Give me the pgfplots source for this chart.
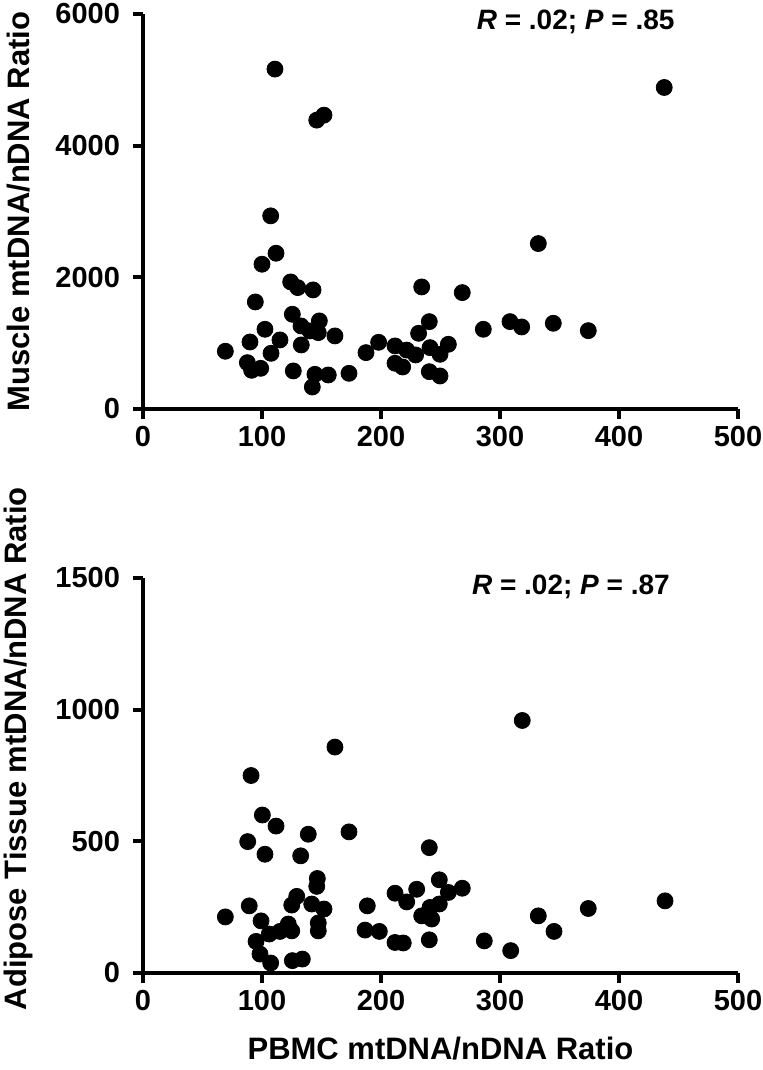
\documentclass[border=0pt]{standalone}
\usepackage{fontspec}
\setmainfont{Liberation Sans}
\usepackage{pgfplots}
\pgfplotsset{compat=1.18}
\pgfplotsset{
 prism/.style={
  scale only axis, width=297.5pt, height=197.5pt,
  xmin=0, xmax=500,
  axis x line*=bottom, axis y line*=left,
  axis line style={line width=2pt,-},
  every tick/.style={line width=2pt,black},
  major tick length=5pt, tick align=outside,
  xtick={0,100,...,500},
  tick label style={font=\fontsize{14.5}{16}\selectfont\bfseries},
  yticklabel style={xshift=-3pt},
  /pgf/number format/assume math mode=true,
  /pgf/number format/1000 sep={},
  label style={font=\fontsize{15.5}{18}\selectfont\bfseries},
  ylabel style={at={(axis description cs:-0.2085,0.5)}, anchor=center},
  clip=false,
 },
 dots/.style={only marks, mark=*, mark size=4pt, black},
}
\begin{document}
\begin{tikzpicture}
\useasboundingbox (-71.5pt,7pt) rectangle (310pt,-528pt);
\begin{axis}[prism, at={(0pt,0pt)}, anchor=north west,
  ymin=0, ymax=6000, ytick={0,2000,4000,6000},
  ylabel={Muscle mtDNA/nDNA Ratio}]
\addplot[dots] table {
x y
107.3 2934
111.8 2366
100 2199
124.1 1930
130 1844
142.9 1809
234.2 1854
94.4 1626
125.5 1439
132.8 1262
148.2 1338
140.3 1186
147.3 1160
240.6 1327
231.6 1150
102.5 1211
115.1 1049
89.9 1018
161.3 1110
133 973
69.2 877
107.6 846
187.4 856
198 1013
211.8 958
221.6 895
229.1 821
241.2 932
249.6 831
256.6 983
87.7 704
91.3 588
98.9 618
126.3 578
144.5 527
142.3 334
155.7 517
173.1 542
211.8 695
218.2 638
240.6 567
249.6 502
110.9 5163
146 4388
152.1 4464
438 4884
332.2 2513
268.3 1768
286 1211
308.4 1327
318.2 1246
344.8 1302
374.2 1190
};
\node[anchor=base east, inner sep=0pt, font=\fontsize{14}{16}\selectfont\bfseries] at (axis cs:447,5757) {\textit{R} = .02; \textit{P} = .85};
\end{axis}
\begin{axis}[prism, at={(0pt,-282pt)}, anchor=north west,
  ymin=0, ymax=1500, ytick={0,500,1000,1500},
  ylabel={Adipose Tissue mtDNA/nDNA Ratio},
  ylabel style={at={(axis description cs:-0.2085,0.568)}},
  xlabel={PBMC mtDNA/nDNA Ratio},
  xlabel style={at={(axis description cs:0.5,0)}, yshift=-38pt, anchor=center}]
\addplot[dots] table {
x y
90.8 750
100.3 600
111.8 558
138.9 527
173.1 536
88 499
102.5 451
132.5 445
240.6 476
161.3 858
318.7 959
146.5 359
146 329
249 354
211.8 303
230 318
221.6 270
256.6 306
268.3 322
129.2 291
125 258
141.8 262
152.1 243
89.3 255
69.2 213
99.2 198
188.5 255
241.2 249
234.2 217
242.6 205
249 262
147.3 190
147.3 160
122.1 186
125 160
115.1 158
106.1 148
95 120
98.3 72
107.3 38
125.5 47
133.9 53
186.6 163
198.6 158
211.8 116
218.7 114
240.6 126
286.8 122
309 85
332.2 217
345.4 158
374.2 245
438.7 274
};
\node[anchor=base east, inner sep=0pt, font=\fontsize{14}{16}\selectfont\bfseries] at (axis cs:443,1436) {\textit{R} = .02; \textit{P} = .87};
\end{axis}
\end{tikzpicture}
\end{document}
